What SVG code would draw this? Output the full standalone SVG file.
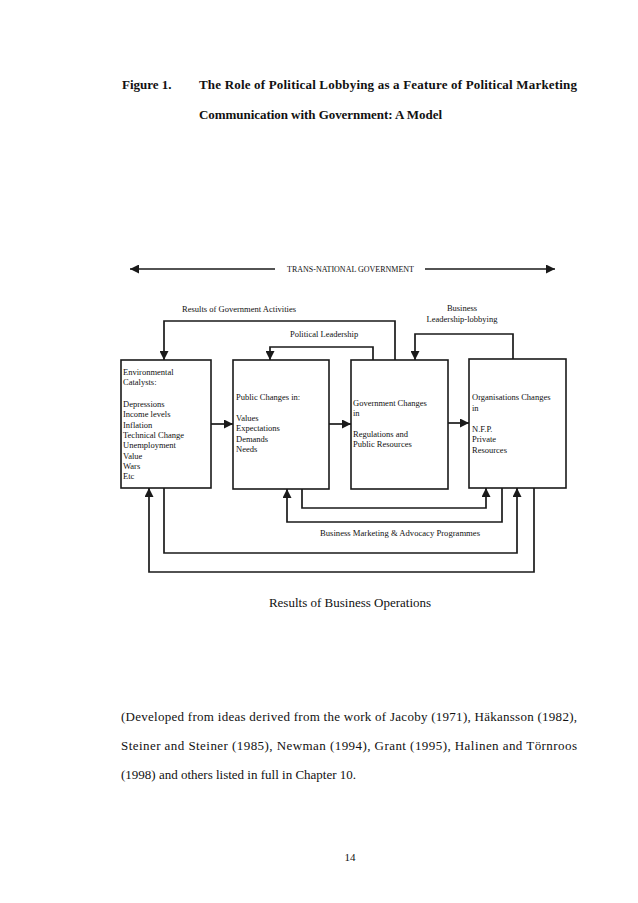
<svg xmlns="http://www.w3.org/2000/svg" width="638" height="903" viewBox="0 0 638 903">
<defs>
<style>
.bg{fill:#fff}
.box{fill:#fff;stroke:#1a1a1a;stroke-width:1.6}
.ln{fill:none;stroke:#1a1a1a;stroke-width:1.7}
.t{font-family:"Liberation Serif","Times New Roman",serif;font-size:8.5px;fill:#111}
.cap{font-family:"Liberation Serif","Times New Roman",serif;font-size:13px;fill:#111}
.b{font-weight:bold}
</style>
<marker id="ah" viewBox="0 0 10 10" refX="10" refY="5" markerWidth="9" markerHeight="9" markerUnits="userSpaceOnUse" orient="auto">
<path d="M0,0 L10,5 L0,10 z" fill="#1a1a1a"/>
</marker>
</defs>
<rect class="bg" x="0" y="0" width="638" height="903"/>

<g id="title">
<text class="cap b" x="122" y="89">Figure 1.</text>
<text class="cap b" x="199" y="89" textLength="378" lengthAdjust="spacing">The Role of Political Lobbying as a Feature of Political Marketing</text>
<text class="cap b" x="199" y="119" textLength="243" lengthAdjust="spacing">Communication with Government: A Model</text>
</g>

<g id="transnational">
<text class="t" x="287" y="272" textLength="127" lengthAdjust="spacingAndGlyphs">TRANS-NATIONAL GOVERNMENT</text>
</g>

<g id="box-environmental">
<rect class="box" x="121" y="360" width="90" height="128"/>
<text class="t" x="123" y="375">Environmental</text>
<text class="t" x="123" y="385">Catalysts:</text>
<text class="t" x="123" y="407">Depressions</text>
<text class="t" x="123" y="417.3">Income levels</text>
<text class="t" x="123" y="427.6">Inflation</text>
<text class="t" x="123" y="437.9">Technical Change</text>
<text class="t" x="123" y="448.2">Unemployment</text>
<text class="t" x="123" y="458.5">Value</text>
<text class="t" x="123" y="468.8">Wars</text>
<text class="t" x="123" y="479.1">Etc</text>
</g>

<g id="box-public">
<rect class="box" x="233" y="360" width="96" height="129"/>
<text class="t" x="236" y="400">Public Changes in:</text>
<text class="t" x="236" y="421">Values</text>
<text class="t" x="236" y="431.3">Expectations</text>
<text class="t" x="236" y="441.6">Demands</text>
<text class="t" x="236" y="451.9">Needs</text>
</g>

<g id="box-government">
<rect class="box" x="351" y="360" width="97" height="129"/>
<text class="t" x="353" y="406">Government Changes</text>
<text class="t" x="353" y="416.3">in</text>
<text class="t" x="353" y="437">Regulations and</text>
<text class="t" x="353" y="447.3">Public Resources</text>
</g>

<g id="box-organisations">
<rect class="box" x="469" y="359" width="97" height="129"/>
<text class="t" x="472" y="400">Organisations Changes</text>
<text class="t" x="472" y="411">in</text>
<text class="t" x="472" y="432">N.F.P.</text>
<text class="t" x="472" y="442.3">Private</text>
<text class="t" x="472" y="452.6">Resources</text>
</g>

<g id="connectors">
<line class="ln" x1="275" y1="269" x2="130" y2="269" marker-end="url(#ah)"/>
<line class="ln" x1="425" y1="269" x2="555" y2="269" marker-end="url(#ah)"/>

<polyline class="ln" points="395,360 395,321 164,321 164,360" marker-end="url(#ah)"/>
<polyline class="ln" points="373,360 373,347 270,347 270,360" marker-end="url(#ah)"/>
<polyline class="ln" points="513,359 513,334 415,334 415,360" marker-end="url(#ah)"/>

<line class="ln" x1="211" y1="424" x2="233" y2="424" marker-end="url(#ah)"/>
<line class="ln" x1="329" y1="424" x2="351" y2="424" marker-end="url(#ah)"/>
<line class="ln" x1="448" y1="423" x2="469" y2="423" marker-end="url(#ah)"/>

<polyline class="ln" points="302,489 302,508 486,508 486,488" marker-end="url(#ah)"/>
<polyline class="ln" points="502,488 502,522 287,522 287,489" marker-end="url(#ah)"/>
<polyline class="ln" points="164,488 164,553 517,553 517,488" marker-end="url(#ah)"/>
<polyline class="ln" points="534,488 534,572 149,572 149,488" marker-end="url(#ah)"/>
</g>

<g id="labels">
<text class="t" x="182" y="312" textLength="114" lengthAdjust="spacingAndGlyphs">Results of Government Activities</text>
<text class="t" x="290" y="337">Political Leadership</text>
<text class="t" x="462" y="311" text-anchor="middle">Business</text>
<text class="t" x="462" y="322" text-anchor="middle">Leadership-lobbying</text>
<text class="t" x="320" y="536" textLength="160" lengthAdjust="spacingAndGlyphs">Business Marketing &amp; Advocacy Programmes</text>
<text class="cap" x="350" y="607" text-anchor="middle">Results of Business Operations</text>
</g>

<g id="footnote">
<text class="cap" x="121" y="721" textLength="456" lengthAdjust="spacing">(Developed from ideas derived from the work of Jacoby (1971), Häkansson (1982),</text>
<text class="cap" x="121" y="750" textLength="456" lengthAdjust="spacing">Steiner and Steiner (1985), Newman (1994), Grant (1995), Halinen and Törnroos</text>
<text class="cap" x="121" y="779">(1998) and others listed in full in Chapter 10.</text>
<text class="cap" x="350" y="861" text-anchor="middle" style="font-size:11px">14</text>
</g>
</svg>
